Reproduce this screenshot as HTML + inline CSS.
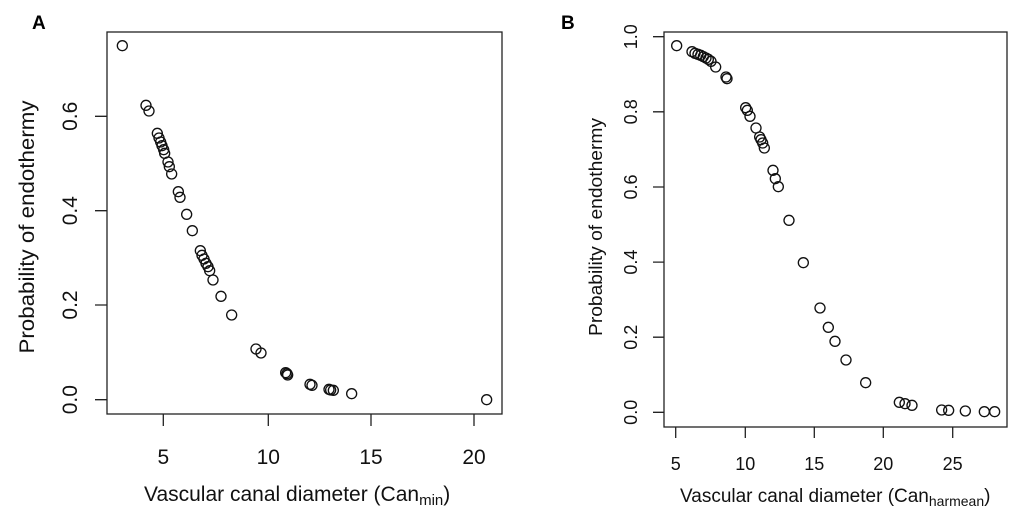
<!DOCTYPE html>
<html><head><meta charset="utf-8"><style>
html,body{margin:0;padding:0;background:#fff;width:1024px;height:517px;overflow:hidden}
svg{display:block}
text{font-family:"Liberation Sans",Arial,sans-serif;fill:#111}
</style></head><body>
<svg width="1024" height="517" viewBox="0 0 1024 517" xmlns="http://www.w3.org/2000/svg">
<text x="32" y="29" font-size="19" font-weight="bold" style="fill:#000">A</text>
<text x="561" y="29" font-size="19" font-weight="bold" style="fill:#000">B</text>

<!-- Panel A -->
<g stroke="#222" stroke-width="1.3" fill="none">
<rect x="107" y="32" width="395" height="382"/>
<path d="M163.3 414v12M268.3 414v12M371 414v12M474 414v12"/>
<path d="M107 399.7h-12M107 305h-12M107 210.7h-12M107 116.3h-12"/>
</g>
<g font-size="21" text-anchor="middle">
<text x="163.3" y="464">5</text><text x="268.3" y="464">10</text><text x="371" y="464">15</text><text x="474" y="464">20</text>
<text transform="translate(77,399.7) rotate(-90)">0.0</text>
<text transform="translate(77,305) rotate(-90)">0.2</text>
<text transform="translate(77,210.7) rotate(-90)">0.4</text>
<text transform="translate(77,116.3) rotate(-90)">0.6</text>
<text transform="translate(34,227) rotate(-90)" textLength="253" lengthAdjust="spacingAndGlyphs">Probability of endothermy</text>
</g>
<text x="144" y="501" font-size="21">Vascular canal diameter (Can<tspan font-size="15" dy="4">min</tspan><tspan dy="-4">)</tspan></text>

<g transform="scale(0.33333)" fill="none" stroke="#111" stroke-width="4">
<circle cx="367" cy="137" r="15"/><circle cx="438" cy="316" r="15"/><circle cx="447" cy="333" r="15"/><circle cx="472" cy="400" r="15"/><circle cx="477" cy="414" r="15"/><circle cx="482" cy="426" r="15"/><circle cx="486" cy="437" r="15"/><circle cx="491" cy="449" r="15"/><circle cx="494" cy="460" r="15"/><circle cx="504" cy="486" r="15"/><circle cx="508" cy="500" r="15"/><circle cx="515" cy="522" r="15"/><circle cx="535" cy="575" r="15"/><circle cx="540" cy="592" r="15"/><circle cx="560" cy="643" r="15"/><circle cx="577" cy="692" r="15"/><circle cx="601" cy="752" r="15"/><circle cx="606" cy="766" r="15"/><circle cx="612" cy="777" r="15"/><circle cx="618" cy="790" r="15"/><circle cx="624" cy="800" r="15"/><circle cx="629" cy="812" r="15"/><circle cx="639" cy="840" r="15"/><circle cx="663" cy="889" r="15"/><circle cx="695" cy="945" r="15"/><circle cx="768" cy="1047" r="15"/><circle cx="783" cy="1059" r="15"/><circle cx="857" cy="1118" r="15"/><circle cx="861" cy="1121" r="15"/><circle cx="863" cy="1125" r="15"/><circle cx="930" cy="1153" r="15"/><circle cx="936" cy="1156" r="15"/><circle cx="987" cy="1168" r="15"/><circle cx="992" cy="1170" r="15"/><circle cx="1000" cy="1171" r="15"/><circle cx="1055" cy="1181" r="15"/><circle cx="1460" cy="1199" r="15"/>
</g>

<!-- Panel B -->
<g stroke="#222" stroke-width="1.3" fill="none">
<rect x="664" y="32" width="343" height="395"/>
<path d="M675.7 427v11M745.3 427v11M814.3 427v11M883.3 427v11M952.7 427v11"/>
<path d="M664 412.3h-11M664 337.2h-11M664 262.1h-11M664 187h-11M664 111.8h-11M664 36.7h-11"/>
</g>
<g font-size="18" text-anchor="middle">
<text x="675.7" y="470">5</text><text x="745.3" y="470">10</text><text x="814.3" y="470">15</text><text x="883.3" y="470">20</text><text x="952.7" y="470">25</text>
<text transform="translate(637,412.3) rotate(-90)">0.0</text>
<text transform="translate(637,337.2) rotate(-90)">0.2</text>
<text transform="translate(637,262.1) rotate(-90)">0.4</text>
<text transform="translate(637,187) rotate(-90)">0.6</text>
<text transform="translate(637,111.8) rotate(-90)">0.8</text>
<text transform="translate(637,36.7) rotate(-90)">1.0</text>
<text transform="translate(602,227) rotate(-90)" textLength="218" lengthAdjust="spacingAndGlyphs">Probability of endothermy</text>
</g>
<text x="680" y="502" font-size="19">Vascular canal diameter (Can<tspan font-size="14" dy="4">harmean</tspan><tspan dy="-4">)</tspan></text>

<g transform="translate(540,0) scale(0.33333)" fill="none" stroke="#111" stroke-width="4">
<circle cx="410" cy="137" r="15"/><circle cx="456" cy="155" r="15"/><circle cx="465" cy="160" r="15"/><circle cx="474" cy="163" r="15"/><circle cx="482" cy="166" r="15"/><circle cx="490" cy="170" r="15"/><circle cx="498" cy="174" r="15"/><circle cx="505" cy="178" r="15"/><circle cx="513" cy="184" r="15"/><circle cx="527" cy="201" r="15"/><circle cx="558" cy="231" r="15"/><circle cx="561" cy="236" r="15"/><circle cx="617" cy="323" r="15"/><circle cx="622" cy="331" r="15"/><circle cx="630" cy="349" r="15"/><circle cx="648" cy="384" r="15"/><circle cx="659" cy="411" r="15"/><circle cx="663" cy="419" r="15"/><circle cx="668" cy="429" r="15"/><circle cx="673" cy="444" r="15"/><circle cx="699" cy="511" r="15"/><circle cx="706" cy="536" r="15"/><circle cx="715" cy="560" r="15"/><circle cx="747" cy="661" r="15"/><circle cx="790" cy="788" r="15"/><circle cx="840" cy="924" r="15"/><circle cx="865" cy="982" r="15"/><circle cx="885" cy="1024" r="15"/><circle cx="918" cy="1080" r="15"/><circle cx="977" cy="1148" r="15"/><circle cx="1078" cy="1207" r="15"/><circle cx="1095" cy="1211" r="15"/><circle cx="1116" cy="1216" r="15"/><circle cx="1205" cy="1230" r="15"/><circle cx="1226" cy="1231" r="15"/><circle cx="1276" cy="1233" r="15"/><circle cx="1333" cy="1235" r="15"/><circle cx="1364" cy="1235" r="15"/>
</g>
</svg>
</body></html>
